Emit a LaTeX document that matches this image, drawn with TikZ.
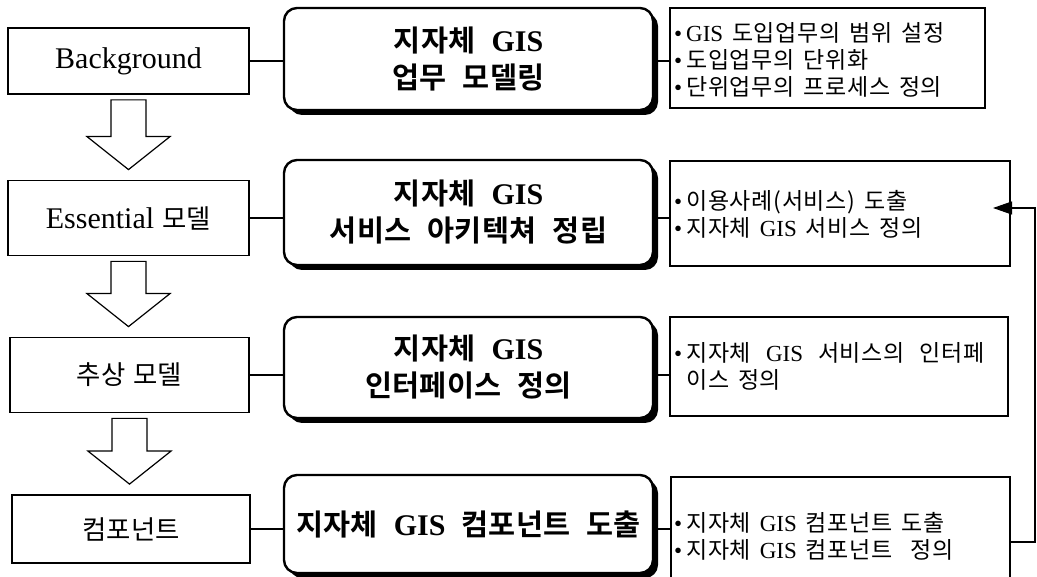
\documentclass[tikz,border=0pt]{standalone}
\usepackage{fontspec}
\setmainfont{Liberation Serif}
% Hangul families: left stage labels, bold activity titles, descriptions
\newfontfamily\krl{Noto Sans CJK KR}[Scale=0.88,WordSpace=1.4]
\newfontfamily\krm{Noto Sans CJK KR}[Scale=0.98,LetterSpace=1,WordSpace=2.3,BoldFont=* Bold]
\newfontfamily\krr{Noto Sans CJK KR}[Scale=1.0,LetterSpace=3,WordSpace=1.5]
\let\krfont\krr
\newcommand\K[1]{{\krfont#1}}
\usetikzlibrary{shadows,arrows.meta,calc}

% hollow block arrow from the bottom of one stage box to the top of the next
\newcommand\flowarrow[2]{%
  \draw[hollow] let \p1=(#1.south), \p2=(#2.north) in
    (\x1-17.5pt,\y1-5pt) -- (\x1+17.5pt,\y1-5pt) -- (\x1+17.5pt,\y2+43pt)
    -- (\x1+41.5pt,\y2+43pt) -- (\x1,\y2+10pt) -- (\x1-41.5pt,\y2+43pt)
    -- (\x1-17.5pt,\y2+43pt) -- cycle;}

\tikzset{
  lbox/.style={draw, line width=1.8pt, minimum width=241pt, inner sep=0pt,
    font=\fontsize{30}{34}\selectfont\let\krfont\krl},
  mbox/.style={draw, line width=2.4pt, rounded corners=13pt, fill=white,
    minimum width=369pt, inner sep=0pt, align=center,
    font=\fontsize{30}{37}\selectfont\bfseries\let\krfont\krm,
    drop shadow={shadow xshift=5pt, shadow yshift=-5pt, fill=black, opacity=1}},
  rbox/.style={draw, line width=1.8pt, inner sep=0pt},
  rtext/.style={anchor=west, align=left, inner sep=0pt,
    font=\fontsize{23}{27}\selectfont\let\krfont\krr},
  conn/.style={line width=1.8pt},
  hollow/.style={line width=1.2pt, line join=miter},
  fb/.style={line width=1.1pt, -{Triangle[length=19pt,width=13pt]}}
}

\begin{document}
\begin{tikzpicture}[x=1pt,y=-1pt]
\useasboundingbox (0,0) rectangle (1037,577);
\fill[white] (0,0) rectangle (1037,577);
\clip (0,0) rectangle (1037,577);

% stage boxes on the left
\node[lbox, minimum height=66pt] (bg) at (128.5,61) {Background};
\node[lbox, minimum height=75pt] (ess) at (128.5,218) {Essential\K{ 모델}};
\node[lbox, minimum height=75pt, minimum width=239pt] (abs) at (129.5,375) {\K{추상 모델}};
\node[lbox, minimum height=68pt, minimum width=238pt] (comp) at (131,529) {\K{컴포넌트}};

% activity boxes in the middle
\node[mbox, minimum height=102pt] (m1) at (468.5,59) {\K{지자체 }GIS\\\K{업무 모델링}};
\node[mbox, minimum height=105pt] (m2) at (468.5,212.5) {\K{지자체 }GIS\\\K{서비스 아키텍쳐 정립}};
\node[mbox, minimum height=101pt] (m3) at (468.5,367.5) {\K{지자체 }GIS\\\K{인터페이스 정의}};
\node[mbox, minimum height=98pt] (m4) at (468.5,524) {\K{지자체 }GIS\K{ 컴포넌트 도출}};

% description boxes on the right
\node[rbox, minimum width=315pt, minimum height=100pt] (r1) at (827.5,58) {};
\node[rbox, minimum width=340pt, minimum height=105pt] (r2) at (840,213.5) {};
\node[rbox, minimum width=338pt, minimum height=99pt] (r3) at (839,366.5) {};
\node[rbox, minimum width=339pt, minimum height=130pt] (r4) at (840.5,542) {};

\node[rtext] (r1t) at (674,60) {•\hspace{4pt}GIS\K{ 도입업무의 범위 설정}\\
  •\hspace{4pt}\K{도입업무의 단위화}\\
  •\hspace{4pt}\K{단위업무의 프로세스 정의}};
\node[rtext] (r2t) at (674,214.5) {•\hspace{4pt}\K{이용사례(서비스) 도출}\\
  •\hspace{4pt}\K{지자체 }GIS\K{ 서비스 정의}};
\node[rtext] (r3t) at (674,366) {•\hspace{4pt}\K{지자체}\hspace{0.65em}GIS\hspace{0.65em}\K{서비스의}\hspace{0.65em}\K{인터페}\\
  \phantom{•}\hspace{4pt}\K{이스 정의}};
\node[rtext] (r4t) at (674,536) {•\hspace{4pt}\K{지자체 }GIS\K{ 컴포넌트 도출}\\
  •\hspace{4pt}\K{지자체 }GIS\K{ 컴포넌트}\hspace{0.8em}\K{정의}};

% links between the columns
\draw[conn] (bg.east) -- (bg.east -| m1.west);
\draw[conn] (ess.east) -- (ess.east -| m2.west);
\draw[conn] (abs.east) -- (abs.east -| m3.west);
\draw[conn] (comp.east) -- (comp.east -| m4.west);
\draw[conn] (m1.east |- bg.east) -- (r1.west |- bg.east);
\draw[conn] (m2.east |- ess.east) -- (r2.west |- ess.east);
\draw[conn] (m3.east |- abs.east) -- (r3.west |- abs.east);
\draw[conn] (m4.east |- comp.east) -- (r4.west |- comp.east);

% hollow arrows between the stages
\flowarrow{bg}{ess}
\flowarrow{ess}{abs}
\flowarrow{abs}{comp}

% feedback from component derivation back to the service architecture
\coordinate (fbx) at (1035,0);
\coordinate (fbtip) at (993,208);
\draw[fb] (r4.east) -- (r4.east -| fbx) -- (fbx |- fbtip) -- (fbtip);
\end{tikzpicture}
\end{document}
